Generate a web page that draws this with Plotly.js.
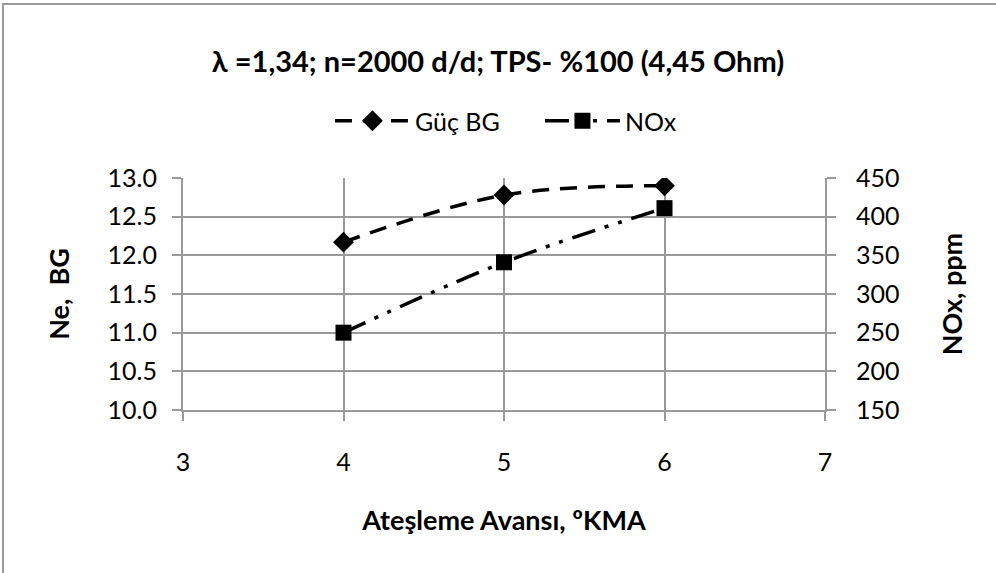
<!DOCTYPE html>
<html>
<head>
<meta charset="utf-8">
<script src="https://cdn.plot.ly/plotly-3.0.1.min.js"></script>
<style>
  html, body { margin: 0; padding: 0; background: #fff; }
  #wrap { position: relative; width: 996px; height: 573px; overflow: hidden; }
  #chart { position: absolute; left: 0; top: 0; width: 996px; height: 573px; }
  #frame { position: absolute; left: 2px; top: 3px; width: 1000px; height: 600px;
           border-top: 2px solid #9a9a9a; border-left: 2px solid #9a9a9a; pointer-events: none; }
</style>
</head>
<body>
<div id="wrap">
  <div id="chart"></div>
  <div id="frame"></div>
</div>
<script>
const xValues = [4, 5, 6];
const gucBG = [12.17, 12.78, 12.9];
const noxPpm = [250, 341, 411];
const seriesNames = ["Güç BG", "NOx"];
const leftTicks = [10.0, 10.5, 11.0, 11.5, 12.0, 12.5, 13.0];
const rightTicks = [150, 200, 250, 300, 350, 400, 450];
const xTicks = [3, 4, 5, 6, 7];

const FONT = "Lato, 'Open Sans', sans-serif";
const GRID = "#9a9a9a";

const traces = [
  {
    x: xValues, y: gucBG, name: seriesNames[0], type: "scatter", mode: "lines+markers",
    line: { color: "#000", width: 3.5, dash: "17px,11px", shape: "spline" },
    marker: { symbol: "diamond", size: 16, color: "#000" },
    yaxis: "y"
  },
  {
    x: xValues, y: noxPpm, name: seriesNames[1], type: "scatter", mode: "lines+markers",
    line: { color: "#000", width: 3.5, dash: "24px,10px,4px,10px,4px,10px", shape: "spline" },
    marker: { symbol: "square", size: 16, color: "#000" },
    yaxis: "y2"
  }
];

const layout = {
  width: 996, height: 573,
  margin: { l: 183, r: 171, t: 178, b: 163, pad: 0 },
  paper_bgcolor: "rgba(0,0,0,0)", plot_bgcolor: "#fff",
  font: { family: FONT, color: "#000", size: 25 },
  showlegend: true,
  title: {
    text: "<b>λ =1,34; n=2000 d/d; TPS- %100 (4,45 Ohm)</b>",
    font: { family: FONT, size: 29, color: "#000" },
    xref: "container", x: 0.5, xanchor: "center",
    yref: "container", y: 1 - 62 / 573, yanchor: "middle"
  },
  legend: {
    orientation: "h", x: 0.556, xanchor: "center", y: (410 - 121) / 232, yanchor: "middle",
    font: { family: FONT, size: 25, color: "#000" }, bgcolor: "rgba(0,0,0,0)",
    itemwidth: 75, entrywidth: 120, entrywidthmode: "pixels"
  },
  xaxis: {
    range: [3, 7], tickvals: xTicks, ticktext: xTicks.map(String),
    showgrid: true, gridcolor: GRID, gridwidth: 2,
    showline: true, linecolor: GRID, linewidth: 2,
    ticks: "outside", ticklen: 9, tickcolor: GRID, tickwidth: 2,
    ticklabelstandoff: 20,
    tickfont: { family: FONT, size: 25 },
    zeroline: false, fixedrange: true,
    title: { text: "<b>Ateşleme Avansı, ºKMA</b>", font: { family: FONT, size: 27 }, standoff: 36 }
  },
  yaxis: {
    range: [10, 13], tickvals: leftTicks, ticktext: leftTicks.map(v => v.toFixed(1)),
    showgrid: true, gridcolor: GRID, gridwidth: 2,
    showline: true, linecolor: GRID, linewidth: 2,
    ticks: "outside", ticklen: 9, tickcolor: GRID, tickwidth: 2,
    ticklabelstandoff: 10,
    tickfont: { family: FONT, size: 25 },
    zeroline: false, fixedrange: true,
    title: { text: "<b>Ne,  BG</b>", font: { family: FONT, size: 27 }, standoff: 30 }
  },
  yaxis2: {
    range: [150, 450], tickvals: rightTicks, ticktext: rightTicks.map(String),
    overlaying: "y", side: "right",
    showgrid: false,
    showline: true, linecolor: GRID, linewidth: 2,
    ticks: "outside", ticklen: 9, tickcolor: GRID, tickwidth: 2,
    ticklabelstandoff: 15,
    tickfont: { family: FONT, size: 25 },
    zeroline: false, fixedrange: true,
    title: { text: "<b>NOx, ppm</b>", font: { family: FONT, size: 27 }, standoff: 45 }
  }
};

Plotly.newPlot("chart", traces, layout, { displayModeBar: false, staticPlot: true });
</script>
</body>
</html>
